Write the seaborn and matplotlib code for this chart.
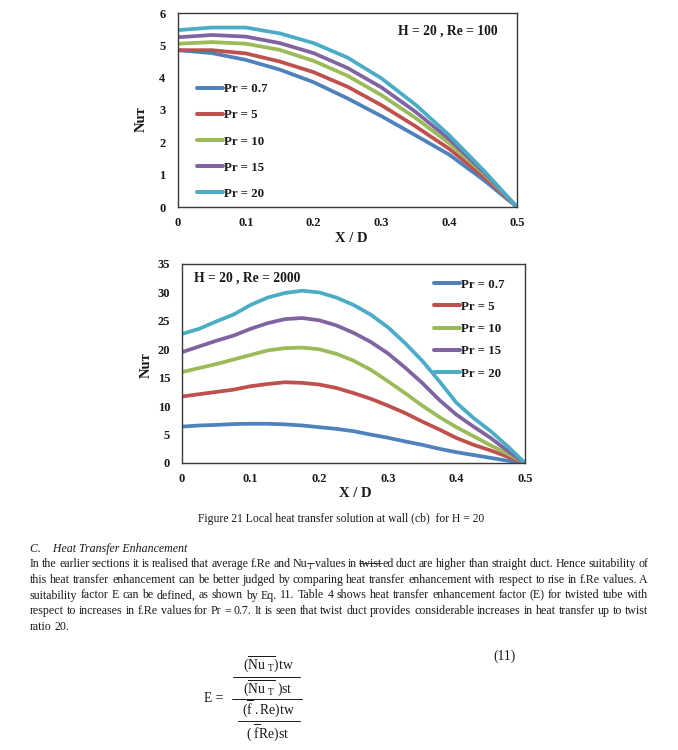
import matplotlib
matplotlib.use('Agg')
import numpy as np
import pandas as pd
import seaborn as sns
import matplotlib.pyplot as plt
from matplotlib.lines import Line2D

# ---------------- data ----------------
pr_labels = ['Pr = 0.7', 'Pr = 5', 'Pr = 10', 'Pr = 15', 'Pr = 20']
colors = ['#4F81BD', '#C0504D', '#9BBB59', '#8064A2', '#4BACC6']

x_re100 = [0, 0.05, 0.1, 0.15, 0.2, 0.25, 0.3, 0.35, 0.4, 0.45, 0.5]
nu_re100_pr07 = [4.85, 4.76, 4.55, 4.25, 3.86, 3.36, 2.81, 2.22, 1.62, 0.85, 0]
nu_re100_pr5 = [4.85, 4.85, 4.75, 4.50, 4.17, 3.72, 3.15, 2.50, 1.80, 0.95, 0]
nu_re100_pr10 = [5.05, 5.10, 5.05, 4.86, 4.52, 4.06, 3.46, 2.76, 1.97, 1.05, 0]
nu_re100_pr15 = [5.25, 5.32, 5.27, 5.07, 4.76, 4.30, 3.70, 2.95, 2.10, 1.10, 0]
nu_re100_pr20 = [5.47, 5.55, 5.55, 5.37, 5.07, 4.62, 3.98, 3.17, 2.22, 1.15, 0]

x_re2000 = [0, 0.025, 0.05, 0.075, 0.1, 0.125, 0.15, 0.175, 0.2, 0.225, 0.25,
            0.275, 0.3, 0.325, 0.35, 0.375, 0.4, 0.425, 0.45, 0.475, 0.5]
nu_re2000_pr07 = [6.4, 6.6, 6.7, 6.85, 6.9, 6.9, 6.8, 6.6, 6.3, 6.0, 5.6,
                  5.0, 4.45, 3.8, 3.2, 2.5, 1.9, 1.4, 0.9, 0.4, 0]
nu_re2000_pr5 = [11.7, 12.1, 12.5, 12.9, 13.5, 13.9, 14.2, 14.1, 13.8, 13.2, 12.3,
                 11.3, 10.1, 8.8, 7.3, 5.9, 4.4, 3.2, 2.2, 1.1, 0]
nu_re2000_pr10 = [16.0, 16.7, 17.4, 18.2, 19.0, 19.8, 20.2, 20.3, 20.0, 19.2, 18.0,
                  16.4, 14.4, 12.3, 10.1, 8.1, 6.3, 4.7, 3.1, 1.6, 0]
nu_re2000_pr15 = [19.5, 20.5, 21.5, 22.4, 23.6, 24.6, 25.3, 25.5, 25.1, 24.2, 22.9,
                  21.3, 19.3, 16.8, 14.1, 11.1, 8.5, 6.4, 4.4, 2.1, 0]
nu_re2000_pr20 = [22.7, 23.6, 24.9, 26.1, 27.8, 29.1, 29.9, 30.3, 30.0, 29.1, 27.8,
                  26.1, 23.9, 21.1, 18.0, 14.4, 10.6, 7.9, 5.6, 2.9, 0]

x_ticks = [0, 0.1, 0.2, 0.3, 0.4, 0.5]
x_tick_labels = ['0', '0.1', '0.2', '0.3', '0.4', '0.5']
y_ticks_re100 = [0, 1, 2, 3, 4, 5, 6]
y_ticks_re2000 = [0, 5, 10, 15, 20, 25, 30, 35]


def long_df(x, series):
    rows = []
    for lab, ys in zip(pr_labels, series):
        for xi, yi in zip(x, ys):
            rows.append((xi, yi, lab))
    return pd.DataFrame(rows, columns=['XD', 'Nu', 'Pr'])


df100 = long_df(x_re100, [nu_re100_pr07, nu_re100_pr5, nu_re100_pr10,
                          nu_re100_pr15, nu_re100_pr20])
df2000 = long_df(x_re2000, [nu_re2000_pr07, nu_re2000_pr5, nu_re2000_pr10,
                            nu_re2000_pr15, nu_re2000_pr20])

# ---------------- style ----------------
sns.set_theme(style='white')
plt.rcParams['font.family'] = ['Liberation Serif', 'DejaVu Serif']
plt.rcParams['mathtext.fontset'] = 'custom'
plt.rcParams['mathtext.rm'] = 'Liberation Serif'
plt.rcParams['mathtext.it'] = 'Liberation Serif:italic'
plt.rcParams['mathtext.bf'] = 'Liberation Serif:bold'

W, H = 678, 750
fig = plt.figure(figsize=(W / 100, H / 100), dpi=100)
fig.patch.set_facecolor('white')


def fx(px):
    return px / W


def fy(py):
    return 1 - py / H


def axes_px(l, t, r, b):
    return fig.add_axes([fx(l), fy(b), (r - l) / W, (b - t) / H])


TXT = '#1a1a1a'
TICK_FS = 9.0
LEG_FS = 9.3


def draw_chart(ax, df, ymax, yticks, leg_anchor, leg_spacing, ypad, xpad):
    sns.lineplot(data=df, x='XD', y='Nu', hue='Pr', hue_order=pr_labels,
                 palette=colors, linewidth=2.7, estimator=None, sort=False, ax=ax)
    ax.set_xlim(0, 0.5)
    ax.set_ylim(0, ymax)
    ax.set_xticks(x_ticks)
    ax.set_xticklabels(x_tick_labels)
    ax.set_yticks(yticks)
    ax.set_yticklabels([str(v) for v in yticks])
    ax.tick_params(axis='both', direction='in', length=2.5, width=0.8,
                   color='#aaaaaa', labelsize=TICK_FS, labelcolor=TXT)
    ax.tick_params(axis='y', pad=ypad)
    ax.tick_params(axis='x', pad=xpad)
    for lab in ax.get_xticklabels() + ax.get_yticklabels():
        lab.set_fontweight('bold')
    for s in ax.spines.values():
        s.set_color('#3a3a3a')
        s.set_linewidth(1.0)
        s.set_visible(True)
    ax.set_xlabel('')
    ax.set_ylabel('')
    old = ax.get_legend()
    handles = old.legend_handles
    labels = [t.get_text() for t in old.get_texts()]
    for h in handles:
        h.set_linewidth(2.9)
    ax.legend(handles, labels, loc='upper left', bbox_to_anchor=leg_anchor,
              frameon=False, prop={'weight': 'bold', 'size': LEG_FS},
              handlelength=2.0, handletextpad=0.1, labelspacing=leg_spacing,
              borderpad=0, borderaxespad=0, labelcolor=TXT)


ax1 = axes_px(178, 13, 517, 207)
draw_chart(ax1, df100, 6, y_ticks_re100, (0.056, 0.638), 1.09, 9.0, 7.0)
ax2 = axes_px(182, 264, 525, 463)
draw_chart(ax2, df2000, 35, y_ticks_re2000, (0.735, 0.927), 0.79, 8.6, 7.0)

# axis labels and annotations
lab_kw = dict(fontsize=10.5, fontweight='bold', color=TXT, ha='center', va='center')
fig.text(fx(141), fy(119), 'Nuт', rotation=90, **lab_kw)
fig.text(fx(351), fy(239), 'X / D', **lab_kw)
fig.text(fx(146), fy(365), 'Nuт', rotation=90, **lab_kw)
fig.text(fx(355), fy(494), 'X / D', **lab_kw)
fig.text(fx(448), fy(31), 'H = 20 , Re = 100', fontsize=9.8, fontweight='bold',
         color=TXT, ha='center', va='center')
fig.text(fx(247), fy(278), 'H = 20 , Re = 2000', fontsize=9.8, fontweight='bold',
         color=TXT, ha='center', va='center')

# ---------------- page text ----------------
BODY = 8.6
CAP = 8.4
fig.text(fx(341), fy(519), 'Figure 21 Local heat transfer solution at wall (cb)  for H = 20',
         fontsize=CAP, color=TXT, ha='center', va='center')
fig.text(fx(30), fy(549), 'C.    Heat Transfer Enhancement', fontsize=CAP + 0.2,
         style='italic', color=TXT, ha='left', va='center')

renderer = fig.canvas.get_renderer()


def hline(x0, x1, y, lw=0.7):
    fig.add_artist(Line2D([fx(x0), fx(x1)], [fy(y), fy(y)],
                          transform=fig.transFigure, color=TXT, lw=lw))


def place_line(words, base_px, justify=True, x0=30, x1=648, fs=BODY):
    # words: list of list of (text, strike, sub)
    em = fs * 100 / 72
    word_arts = []
    widths = []
    for word in words:
        arts = []
        wsum = 0
        for text, strike, sub in word:
            size = fs * (0.65 if sub else 1.0)
            t = fig.text(0, 0, text, fontsize=size, color=TXT, ha='left', va='baseline')
            w = t.get_window_extent(renderer).width
            arts.append((t, w, strike, sub))
            wsum += w
        word_arts.append(arts)
        widths.append(wsum)
    n = len(words)
    if justify and n > 1:
        gap = (x1 - x0 - sum(widths)) / (n - 1)
    else:
        gap = 0.25 * em
    x = x0
    pending_strike = None
    for i, arts in enumerate(word_arts):
        if pending_strike is not None:
            hline(pending_strike, x - 1, base_px - 0.3 * em, 0.6)
            pending_strike = None
        for t, w, strike, sub in arts:
            dy = 0.18 * em if sub else 0
            t.set_position((fx(x), fy(base_px + dy)))
            if strike:
                if sub:
                    pending_strike = x
                else:
                    hline(x, x + w, base_px - 0.3 * em, 0.6)
            x += w
        x += gap


def simple(s):
    return [[(w, False, False)] for w in s.split()]


line1 = (simple('In the earlier sections it is realised that average f.Re and')
         + [[('Nu', False, False), ('T', True, True)]]
         + simple('values in')
         + [[('twist', True, False), ('ed', False, False)]]
         + simple('duct are higher than straight duct. Hence suitability of'))
line2 = simple('this heat transfer enhancement can be better judged by comparing heat '
               'transfer enhancement with respect to rise in f.Re values. A')
line3 = simple('suitability factor E can be defined, as shown by Eq. 11. Table 4 shows '
               'heat transfer enhancement factor (E) for twisted tube with')
line4 = simple('respect to increases in f.Re values for Pr = 0.7. It is seen that twist '
               'duct provides considerable increases in heat transfer up to twist')
line5 = simple('ratio 20.')

for ln, yb, just in [(line1, 567, True), (line2, 583, True), (line3, 598.5, True),
                     (line4, 614, True), (line5, 630, False)]:
    place_line(ln, yb, justify=just)

# ---------------- equation (11) ----------------
EQ = 9.8
eq_kw = dict(fontsize=EQ, color=TXT, va='center')
fig.text(fx(505), fy(656), '(11)', ha='center', **eq_kw)
fig.text(fx(204), fy(698), 'E =', ha='left', **eq_kw)
fig.text(fx(268), fy(664), r'$(\overline{\mathrm{Nu}\ _{\mathrm{T}}})\mathrm{tw}$',
         ha='center', **eq_kw)
fig.text(fx(268), fy(688), r'$(\overline{\mathrm{Nu}\ _{\mathrm{T}}}\ )\mathrm{st}$',
         ha='center', **eq_kw)
fig.text(fx(268), fy(709), r'$(\overline{\mathrm{f}}\ .\mathrm{Re})\mathrm{tw}$',
         ha='center', **eq_kw)
fig.text(fx(268), fy(733), r'$(\ \overline{\mathrm{f}}\mathrm{Re})\mathrm{st}$',
         ha='center', **eq_kw)
hline(233, 300, 677)
hline(232, 302, 699)
hline(238, 300, 721)

fig.savefig('out.png', dpi=100, facecolor='white')
